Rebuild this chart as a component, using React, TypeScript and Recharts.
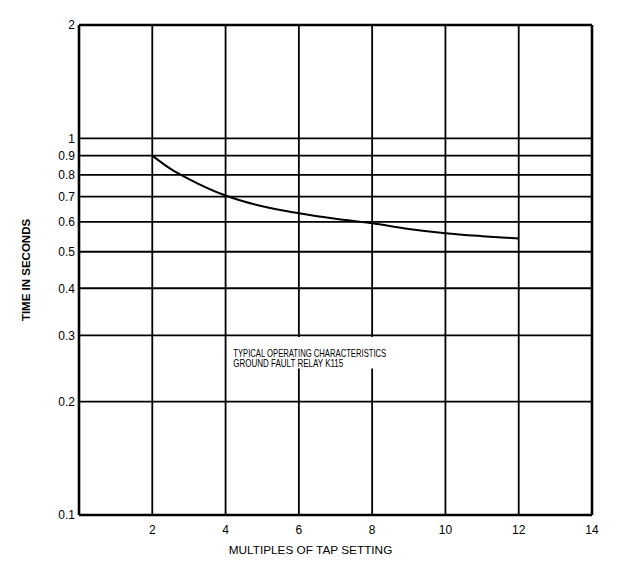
import React from 'react';
import {
  LineChart,
  Line,
  XAxis,
  YAxis,
  CartesianGrid,
  ReferenceArea,
  ReferenceLine,
} from 'recharts';

// relay curve
const multiples = [2, 2.5, 3, 4, 5, 6, 7, 8, 9, 10, 11, 12];
const seconds = [0.9, 0.83, 0.78, 0.705, 0.66, 0.633, 0.612, 0.595, 0.575, 0.56, 0.55, 0.542];

const xTicks = [2, 4, 6, 8, 10, 12, 14];
const yTicks = [0.1, 0.2, 0.3, 0.4, 0.5, 0.6, 0.7, 0.8, 0.9, 1, 2];

const noteLines = ['TYPICAL OPERATING CHARACTERISTICS', 'GROUND FAULT RELAY K115'];

const data = multiples.map((m, i) => ({ m, t: seconds[i] }));

const FONT = "'Liberation Sans', Arial, Helvetica, sans-serif";

const NoteText = (props: any) => {
  const vb = props.viewBox || {};
  const x = (vb.x ?? 0) + 4;
  const y = vb.y ?? 0;
  return (
    <g>
      <text x={x} y={y + 20} fontFamily={FONT} fontSize={10.8} fill="#000" textLength={153} lengthAdjust="spacingAndGlyphs">
        {noteLines[0]}
      </text>
      <text x={x} y={y + 30.5} fontFamily={FONT} fontSize={10.8} fill="#000" textLength={110} lengthAdjust="spacingAndGlyphs">
        {noteLines[1]}
      </text>
    </g>
  );
};

export default function App() {
  return (
    <div style={{ position: 'absolute', left: 0, top: 0, width: 618, height: 571, background: '#fff' }}>
      <LineChart width={618} height={571} data={data} margin={{ top: 25, right: 26, bottom: 26, left: 20 }}>
        <CartesianGrid stroke="#000" strokeWidth={1.8} />
        <XAxis
          dataKey="m"
          type="number"
          domain={[0, 14]}
          ticks={xTicks}
          interval={0}
          allowDataOverflow
          height={30}
          tickLine={false}
          tickSize={0}
          tickMargin={10}
          axisLine={{ stroke: '#000', strokeWidth: 2.6 }}
          tick={{ fill: '#000', fontSize: 12, fontFamily: FONT }}
          label={{
            value: 'MULTIPLES OF TAP SETTING',
            position: 'bottom',
            offset: 1,
            dx: -25,
            fill: '#000',
            fontSize: 11.8,
            fontFamily: FONT,
          }}
        />
        <YAxis
          type="number"
          scale="log"
          domain={[0.1, 2]}
          ticks={yTicks}
          interval={0}
          allowDataOverflow
          width={59}
          tickLine={false}
          tickSize={0}
          tickMargin={4}
          axisLine={{ stroke: '#000', strokeWidth: 2.6 }}
          tick={{ fill: '#000', fontSize: 12, fontFamily: FONT }}
          label={{
            value: 'TIME IN SECONDS',
            angle: -90,
            position: 'insideLeft',
            offset: 6,
            fill: '#000',
            fontSize: 11.5,
            fontWeight: 'bold',
            fontFamily: FONT,
            style: { textAnchor: 'middle' },
          }}
        />
        <ReferenceLine y={2} stroke="#000" strokeWidth={2.6} />
        <ReferenceLine x={14} stroke="#000" strokeWidth={2.6} />
        <ReferenceArea
          x1={4.1}
          x2={8.8}
          y1={0.245}
          y2={0.297}
          fill="#fff"
          fillOpacity={1}
          stroke="none"
          label={{ content: NoteText }}
        />
        <Line
          type="monotone"
          dataKey="t"
          stroke="#000"
          strokeWidth={2}
          dot={false}
          isAnimationActive={false}
        />
      </LineChart>
    </div>
  );
}
